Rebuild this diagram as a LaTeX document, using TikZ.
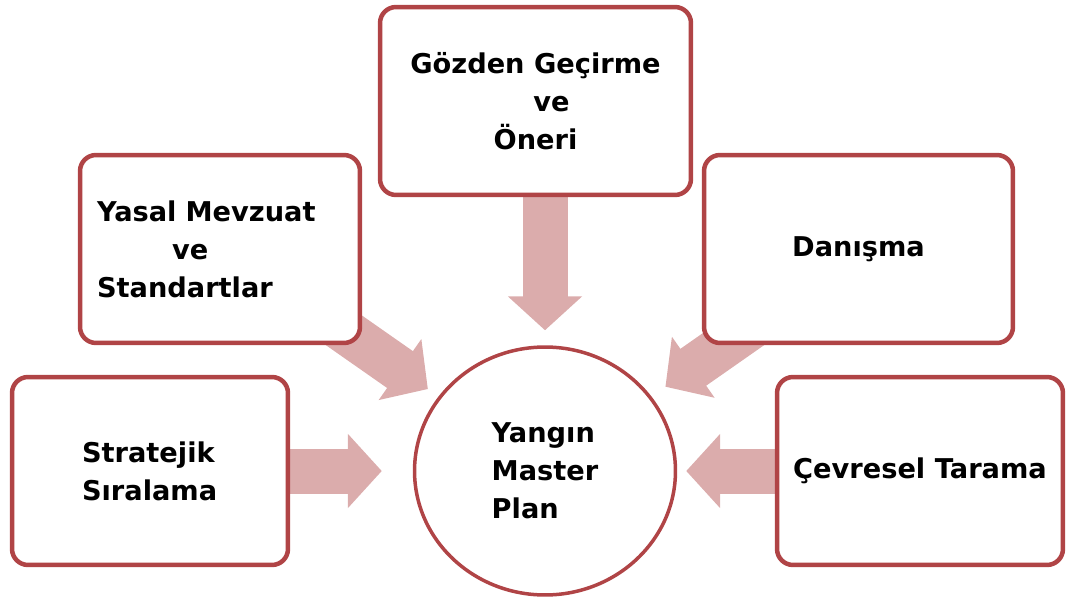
\documentclass[tikz,border=0pt]{standalone}
\usepackage{fontspec}
\setmainfont{DejaVu Sans}
\usetikzlibrary{shapes.geometric, arrows.meta, calc, backgrounds}
\definecolor{boxred}{RGB}{176,68,70}
\definecolor{arrowpink}{RGB}{219,172,172}
\hyphenpenalty=10000

\begin{document}
\begin{tikzpicture}[x=0.02cm, y=-0.02cm,
        every node/.style={font=\bfseries\fontsize{15.5}{21.6}\selectfont},
        box/.style={draw=boxred, line width=0.09cm, rounded corners=0.32cm, fill=white, minimum height=3.76cm},
        fat/.style={draw=arrowpink, line width=0.9cm, -{Triangle[width=1.45cm, length=0.68cm]}}]
        \useasboundingbox (0,0) rectangle (1089,605);

        % Centre: the plan itself
        \node[ellipse, draw=boxred, line width=0.07cm, fill=white, minimum width=5.22cm, minimum height=4.96cm, align=left] (plan) at (545,471) {Yang\i n\\Master\\Plan};

        % Boxes around it
        \node[box, minimum width=6.22cm, align=center] (gozden) at (535.5,101) {G\"ozden Ge\c{c}irme\\\hspace*{0.64cm}ve\\\"Oneri};
        \node[box, text width=4.92cm, minimum width=5.6cm, align=left] (yasal) at (220,249) {Yasal Mevzuat\\\hspace*{1.5cm}ve\\Standartlar};
        \node[box, minimum width=6.18cm] (danisma) at (858.5,249) {Dan\i\c{s}ma};
        \node[box, text width=2.72cm, minimum width=5.52cm, align=left] (stratejik) at (150,471) {Stratejik\\S\i ralama};
        \node[box, minimum width=5.72cm] (cevresel) at (920,471) {\c{C}evresel Tarama};

        % Start points of the slanted arrows (hidden under the boxes)
        \coordinate (ystart) at ($(yasal.south east)+(-0.54cm,0.42cm)$);
        \coordinate (dstart) at ($(danisma.south west)+(1.26cm,0.56cm)$);

        % Fat arrows into the circle, behind the boxes
        \begin{scope}[on background layer]
            \draw[fat, shorten >=0.3cm] (gozden.south -| plan.north) -- (plan.north);
            \draw[fat, shorten >=0.62cm] (stratejik.east) -- (plan.west);
            \draw[fat, shorten >=0.18cm] (cevresel.west) -- (plan.east);
            \draw[fat, shorten >=0.26cm] (ystart) -- (plan);
            \draw[fat, shorten >=0.34cm] (dstart) -- (plan);
        \end{scope}
    \end{tikzpicture}
\end{document}
